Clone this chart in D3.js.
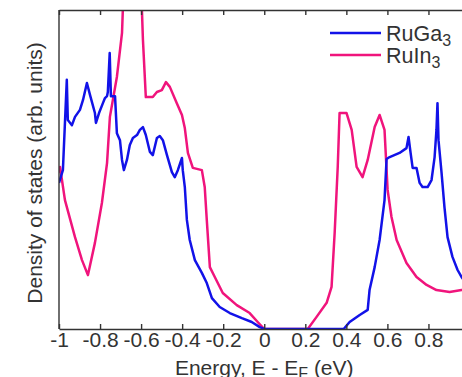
<!DOCTYPE html>
<html>
<head>
<meta charset="utf-8">
<script src="https://cdn.jsdelivr.net/npm/d3@7"></script>
<style>
  body { margin: 0; background: #fff; }
  svg { display: block; }
  text { font-family: "Liberation Sans", Arial, sans-serif; fill: #333; }
</style>
</head>
<body>
<figure id="dos" style="margin:0"></figure>
<script>
// energy ticks (eV)
const tickValues = [-1, -0.8, -0.6, -0.4, -0.2, 0, 0.2, 0.4, 0.6, 0.8, 1];
const tickLabels = ["-1", "-0.8", "-0.6", "-0.4", "-0.2", "0", "0.2", "0.4", "0.6", "0.8", "1"];

// series names
const seriesNames = ["RuGa", "RuIn"];

// RuGa3 : [E, DOS]
const ruGa3 = [
  [-1.000, 4.58], [-0.981, 4.98], [-0.962, 7.81], [-0.957, 6.55], [-0.937, 6.39],
  [-0.922, 6.65], [-0.898, 6.87], [-0.883, 7.18], [-0.864, 7.71], [-0.849, 7.34],
  [-0.825, 6.77], [-0.820, 6.46], [-0.805, 6.77], [-0.786, 7.08], [-0.776, 7.24],
  [-0.766, 7.30], [-0.762, 7.43], [-0.753, 8.65], [-0.747, 7.30], [-0.727, 7.30],
  [-0.718, 6.14], [-0.703, 5.92], [-0.693, 5.30], [-0.684, 4.98], [-0.669, 5.30],
  [-0.655, 5.77], [-0.640, 5.99], [-0.620, 6.08], [-0.606, 6.24], [-0.591, 6.33],
  [-0.577, 6.08], [-0.557, 5.55], [-0.543, 5.45], [-0.523, 5.99], [-0.509, 6.05],
  [-0.494, 5.92], [-0.474, 5.45], [-0.450, 4.92], [-0.436, 4.76], [-0.421, 4.98],
  [-0.401, 5.36], [-0.397, 4.98], [-0.387, 4.45], [-0.377, 3.42], [-0.363, 2.79],
  [-0.338, 2.16], [-0.304, 1.76], [-0.280, 1.44], [-0.255, 0.97], [-0.217, 0.69],
  [-0.168, 0.50], [-0.109, 0.34], [-0.061, 0.22], [-0.022, 0.06], [0.000, 0.00],
  [0.387, 0.00], [0.416, 0.22], [0.465, 0.44], [0.504, 0.60], [0.513, 1.22],
  [0.538, 1.94], [0.562, 2.79], [0.586, 4.04], [0.596, 5.33], [0.611, 5.39],
  [0.659, 5.52], [0.693, 5.67], [0.703, 6.02], [0.713, 5.52], [0.723, 5.05],
  [0.742, 5.05], [0.757, 4.58], [0.771, 4.45], [0.796, 4.45], [0.815, 4.67],
  [0.830, 5.39], [0.839, 6.24], [0.844, 7.08], [0.849, 5.92], [0.864, 4.89],
  [0.878, 3.82], [0.893, 2.88], [0.917, 2.26], [0.942, 1.85], [0.961, 1.63],
  [1.000, 1.30]
];

// RuIn3 : [E, DOS]
const ruIn3 = [
  [-1.000, 4.90], [-0.995, 5.08], [-0.971, 4.04], [-0.922, 2.88], [-0.888, 2.16],
  [-0.859, 1.69], [-0.825, 2.70], [-0.791, 3.95], [-0.766, 5.20], [-0.752, 6.65],
  [-0.718, 7.90], [-0.693, 9.28], [-0.689, 10.0], [-0.675, 11.0], [-0.605, 11.0],
  [-0.596, 10.0], [-0.591, 9.06], [-0.577, 7.27], [-0.543, 7.27], [-0.523, 7.43],
  [-0.499, 7.49], [-0.479, 7.74], [-0.460, 7.59], [-0.426, 7.08], [-0.401, 6.71],
  [-0.387, 6.30], [-0.372, 5.52], [-0.348, 5.05], [-0.304, 4.98], [-0.290, 4.45],
  [-0.280, 3.42], [-0.265, 1.94], [-0.241, 1.63], [-0.202, 1.13], [-0.134, 0.75],
  [-0.071, 0.50], [-0.032, 0.22], [0.000, 0.00], [0.212, 0.00], [0.255, 0.38],
  [0.304, 0.82], [0.328, 1.32], [0.343, 3.01], [0.358, 5.08], [0.367, 6.77],
  [0.401, 6.77], [0.426, 6.24], [0.450, 5.08], [0.479, 4.76], [0.504, 5.30],
  [0.538, 6.33], [0.562, 6.71], [0.586, 6.24], [0.601, 4.36], [0.620, 3.51],
  [0.645, 2.79], [0.693, 2.07], [0.742, 1.63], [0.791, 1.38], [0.839, 1.22],
  [0.903, 1.16], [0.961, 1.22], [1.000, 1.25]
];

const W = 462, H = 377;
const margin = { top: 10, left: 59, bottom: 48 };
const plotW = 410.5;              // runs past the right edge of the window
const plotH = H - margin.top - margin.bottom;

const svg = d3.select("figure#dos")
  .append("svg")
  .attr("width", W)
  .attr("height", H);

const g = svg.append("g")
  .attr("transform", "translate(" + margin.left + "," + margin.top + ")");

const x = d3.scaleLinear().domain([-1, 1]).range([0, plotW]);
const y = d3.scaleLinear().domain([0, 10]).range([plotH, 0]);

g.append("clipPath").attr("id", "clip")
  .append("rect").attr("width", plotW).attr("height", plotH);

// curves
const line = d3.line().x(d => x(d[0])).y(d => y(d[1]));
const colors = ["#1212e8", "#f0147c"];

g.append("g").attr("clip-path", "url(#clip)")
  .selectAll("path")
  .data([ruIn3, ruGa3])
  .enter()
  .append("path")
  .attr("d", line)
  .attr("fill", "none")
  .attr("stroke", (d, i) => i === 0 ? colors[1] : colors[0])
  .attr("stroke-width", 2.5)
  .attr("stroke-linejoin", "round");

// bottom axis, ticks inward
const bottom = g.append("g")
  .attr("transform", "translate(0," + plotH + ")")
  .call(d3.axisBottom(x).tickValues(tickValues)
    .tickFormat((d, i) => tickLabels[i])
    .tickSizeInner(-5).tickSizeOuter(0).tickPadding(3));
bottom.selectAll("text").style("font-size", "21px").attr("fill", "#333")
  .style("font-family", "'Liberation Sans', Arial, sans-serif");

// top axis, ticks inward, no labels
g.append("g")
  .call(d3.axisTop(x).tickValues(tickValues).tickFormat("")
    .tickSizeInner(-5).tickSizeOuter(0));

// left axis line
g.append("line")
  .attr("x1", 0).attr("x2", 0).attr("y1", 0).attr("y2", plotH);

g.selectAll(".domain, .tick line, line")
  .attr("stroke", "#333").attr("stroke-width", 1.4);

// axis titles
const xTitle = svg.append("text")
  .attr("x", margin.left + x(0))
  .attr("y", 375)
  .attr("text-anchor", "middle")
  .style("font-size", "21px");
xTitle.append("tspan").text("Energy, E - E");
xTitle.append("tspan").attr("dy", 4).style("font-size", "16px").text("F");
xTitle.append("tspan").attr("dy", -4).text(" (eV)");

svg.append("text")
  .attr("transform", "translate(42," + (margin.top + 163) + ") rotate(-90)")
  .attr("text-anchor", "middle")
  .style("font-size", "21px")
  .text("Density of states (arb. units)");

// legend
const legend = svg.append("g").attr("transform", "translate(330,33)");
seriesNames.forEach((name, i) => {
  const row = legend.append("g").attr("transform", "translate(0," + i * 22 + ")");
  row.append("line")
    .attr("x1", 0).attr("x2", 51)
    .attr("stroke", colors[i]).attr("stroke-width", 2.5);
  const t = row.append("text").attr("x", 56).attr("y", 7.5).style("font-size", "21.5px");
  t.append("tspan").text(name);
  t.append("tspan").attr("dy", 5).style("font-size", "16px").text("3");
});
</script>
</body>
</html>
